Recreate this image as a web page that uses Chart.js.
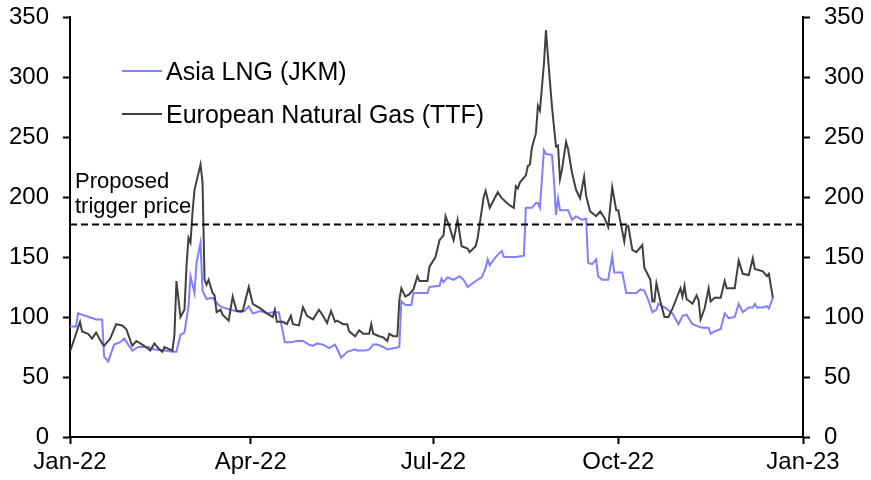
<!DOCTYPE html>
<html>
<head>
<meta charset="utf-8">
<script src="https://cdn.jsdelivr.net/npm/chart.js@4.4.0/dist/chart.umd.min.js"></script>
<style>
html, body { margin: 0; padding: 0; background: #fff; }
#wrap { width: 871px; height: 480px; }
</style>
</head>
<body>
<div id="wrap"><canvas id="gasChart" width="871" height="480"></canvas></div>
<script>
// series names
var seriesNames = ['Asia LNG (JKM)', 'European Natural Gas (TTF)'];

// days since 1 Jan 2022, price
var jkmDays = [0,3,4,13,16,17,19,22,25,27,29,31,34,39,42,47,51,53,55,57,59,60,62,63,65,66,68,71,74,76,80,85,87,89,91,95,98,101,104,107,110,113,116,119,121,123,126,129,132,134,135,138,140,142,143,147,149,151,153,156,158,161,164,165,167,170,171,174,178,179,184,185,186,188,191,194,196,198,202,205,207,208,209,212,213,215,216,219,222,226,227,230,232,233,234,236,237,240,241,242,243,244,248,250,252,255,257,258,260,262,263,265,268,270,271,275,277,280,282,284,286,288,290,292,293,297,300,303,305,307,310,313,315,318,319,321,324,326,328,331,333,335,338,340,341,342,345,347,348,350];
var jkmPrices = [92,92,103,98,98,67,63,77,79,82,77,72,75,75,73,72,71,71,85,87,109,134,120,145,162,122,115,116,110,108,106,104,105,109,103,105,103,104,104,79,79,80,80,77,76,78,77,74,77,70,66,71,72,73,72,72,73,77,77,75,73,74,75,113,110,110,120,120,120,125,126,132,129,133,131,134,131,125,130,133,141,148,143,150,152,155,150,150,150,151,191,191,195,195,191,239,236,235,214,185,199,189,189,181,184,181,182,145,144,148,134,131,131,151,137,137,120,120,120,123,122,114,104,106,111,107,103,94,101,102,94,92,91,91,86,88,90,103,99,100,111,104,108,108,111,108,108,109,107,116];

var ttfDays = [0,5,6,9,11,13,16,17,20,23,26,28,31,33,37,40,42,44,46,47,51,52,53,55,57,58,59,60,61,62,65,66,67,68,69,71,72,73,75,76,79,81,83,86,89,91,95,98,101,102,103,106,108,110,111,114,116,118,121,124,126,128,130,132,133,136,138,139,142,144,146,149,150,151,154,156,158,159,161,163,164,165,167,169,171,173,174,178,179,182,184,186,187,189,191,193,195,198,199,202,203,206,207,209,213,215,219,221,222,223,224,227,228,229,230,232,233,234,236,237,238,240,242,243,244,245,247,248,250,252,254,256,257,259,262,264,266,268,270,272,273,276,277,278,280,282,285,286,289,290,291,292,294,296,298,300,304,305,306,307,310,312,313,314,316,318,319,321,324,326,327,331,333,335,338,340,341,345,347,348,350];
var ttfPrices = [71,96,88,86,82,87,78,76,82,94,93,90,76,80,76,72,78,74,71,75,72,85,130,100,106,142,166,162,187,206,227,212,131,127,131,120,118,104,106,102,97,117,105,105,125,111,107,103,100,106,96,96,94,101,94,93,108,101,98,106,101,95,105,96,97,94,94,88,84,89,86,86,94,86,84,83,80,86,84,84,114,124,117,119,123,134,130,130,142,150,164,168,184,175,164,181,159,157,154,159,166,200,205,191,204,199,193,191,209,207,212,218,226,227,241,253,276,272,311,339,317,275,242,243,215,223,246,240,220,206,199,217,201,188,184,188,183,175,208,189,189,163,175,176,156,154,160,141,131,113,113,128,113,100,100,107,124,117,126,115,111,118,114,98,107,124,113,116,116,130,124,124,147,136,135,149,140,138,134,136,116];

var triggerPrice = 177;
var triggerText = ['Proposed', 'trigger price'];

var tickDays = [0, 90, 181, 273, 365];
var tickLabels = ['Jan-22', 'Apr-22', 'Jul-22', 'Oct-22', 'Jan-23'];
var yTickValues = [0, 50, 100, 150, 200, 250, 300, 350];

Chart.defaults.font.family = "'Liberation Sans', Arial, sans-serif";
Chart.defaults.color = '#000';

function toPoints(days, vals) {
	return days.map(function(d, i) { return { x: d, y: vals[i] }; });
}

// legend and the note over the dashed line
var overlay = {
	id: 'overlay',
	afterDatasetsDraw: function(chart) {
		var ctx = chart.ctx;
		var rows = [71, 114];
		ctx.save();
		ctx.font = "25px 'Liberation Sans', Arial, sans-serif";
		ctx.textBaseline = 'middle';
		ctx.textAlign = 'left';
		for (var i = 0; i < 2; i++) {
			var ds = chart.data.datasets[i];
			ctx.strokeStyle = ds.borderColor;
			ctx.lineWidth = 2;
			ctx.beginPath();
			ctx.moveTo(122, rows[i]);
			ctx.lineTo(162, rows[i]);
			ctx.stroke();
			ctx.fillStyle = '#000';
			ctx.fillText(ds.label, 166, rows[i] + 2);
		}
		ctx.font = "22px 'Liberation Sans', Arial, sans-serif";
		ctx.fillText(triggerText[0], 75, 182);
		ctx.fillText(triggerText[1], 75, 207);
		ctx.restore();
	}
};

var yAxis = function(pos, w) {
	return {
		position: pos,
		min: 0,
		max: 350,
		afterBuildTicks: function(s) { s.ticks = yTickValues.map(function(v) { return { value: v }; }); },
		afterFit: function(s) { s.width = w; s.paddingTop = 0; s.paddingBottom = 0; },
		ticks: { padding: 14, font: { size: 24 }, color: '#000' },
		grid: { drawOnChartArea: false, color: '#000', tickLength: 7, tickWidth: 2 },
		border: { color: '#000', width: 2 }
	};
};

var ctx = document.getElementById('gasChart').getContext('2d');
window.gasChart = new Chart(ctx, {
	type: 'line',
	data: {
		datasets: [
			{ label: seriesNames[0], data: toPoints(jkmDays, jkmPrices), borderColor: '#7f7fff', borderWidth: 2, pointRadius: 0, tension: 0, order: 2 },
			{ label: seriesNames[1], data: toPoints(ttfDays, ttfPrices), borderColor: '#404040', borderWidth: 2, pointRadius: 0, tension: 0, order: 1 },
			{ label: 'trigger', data: [{ x: 0, y: triggerPrice }, { x: 365, y: triggerPrice }], borderColor: '#000', borderWidth: 2, borderDash: [7, 4], pointRadius: 0, order: 0 }
		]
	},
	options: {
		responsive: false,
		animation: false,
		layout: { padding: { top: 17, left: 0, right: 0, bottom: 0 } },
		plugins: { legend: { display: false }, tooltip: { enabled: false } },
		scales: {
			x: {
				type: 'linear',
				min: 0,
				max: 365,
				afterBuildTicks: function(s) { s.ticks = tickDays.map(function(v) { return { value: v }; }); },
				afterFit: function(s) { s.height = 43; s.paddingLeft = 0; s.paddingRight = 0; },
				ticks: {
					autoSkip: false,
					maxRotation: 0,
					padding: 4,
					font: { size: 24 },
					color: '#000',
					callback: function(v) { return tickLabels[tickDays.indexOf(v)]; }
				},
				grid: { drawOnChartArea: false, color: '#000', tickLength: 7, tickWidth: 2 },
				border: { color: '#000', width: 2 }
			},
			y: yAxis('left', 70),
			y2: yAxis('right', 68)
		}
	},
	plugins: [overlay]
});
</script>
</body>
</html>
